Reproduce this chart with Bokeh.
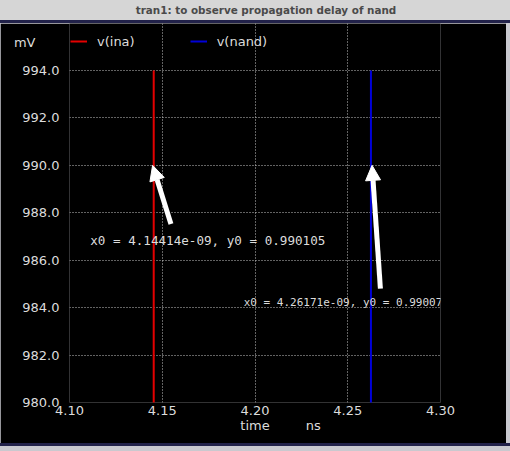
from bokeh.plotting import figure
from bokeh.models import (Range1d, FixedTicker, Legend, LegendItem, Arrow, Div, Label,
                          NormalHead, PrintfTickFormatter, ColumnDataSource, LinearAxis)
from bokeh.layouts import column
from bokeh.embed import file_html
from bokeh.resources import INLINE

# ---------------- data ----------------
window_title = "tran1: to observe propagation delay of nand"
y_unit = "mV"
x_title = "time"
x_unit = "ns"
x_ticks = [4.10, 4.15, 4.20, 4.25, 4.30]
y_ticks = [980.0, 982.0, 984.0, 986.0, 988.0, 990.0, 992.0, 994.0]
series_names = ["v(ina)", "v(nand)"]
series_colors = ["#e40000", "#0000d8"]
# time in ns, voltage in mV (steep transitions seen in the zoomed window)
ina_time = [4.1454, 4.1454]
ina_mv = [975.0, 994.0]
nand_time = [4.2625, 4.2625]
nand_mv = [994.0, 975.0]
# cursor markers
marker_text = ["x0 = 4.14414e-09, y0 = 0.990105", "x0 = 4.26171e-09, y0 = 0.99007"]
marker_time = [4.1112, 4.1939]
marker_mv = [986.82, 984.22]
arrow_tip_time = [4.1448, 4.2631]
arrow_tip_mv = [990.0, 990.0]
arrow_tail_time = [4.1547, 4.2676]
arrow_tail_mv = [987.53, 984.80]
# positions of the caption words (time axis) and unit word (value axis)
caption_time = [4.20, 4.2314]
unit_mv = 995.18

FG = "#dcdcdc"
GRID = "#c4c4c4"
NAVY = "#22224a"

# geometry: plot box 371 x 332 px, header strip of 47 px above it
PLOT_H = 332
HEAD_H = 47
px_per_mv = PLOT_H / (y_ticks[-1] - y_ticks[0])

# ---------------- title bar ----------------
bar = Div(text=window_title, width=510, height=23, margin=0,
          styles={"background-color": "#d6d6d6", "color": "#4a4a4a",
                  "font-family": "DejaVu Sans", "font-weight": "bold",
                  "font-size": "10.4px", "line-height": "20px",
                  "text-align": "center", "padding-left": "22px",
                  "box-sizing": "border-box", "width": "510px", "height": "23px",
                  "border-bottom": "3px solid " + NAVY})

# ---------------- main plot ----------------
p = figure(frame_width=371, frame_height=PLOT_H + HEAD_H, output_backend="svg",
           toolbar_location=None,
           x_range=Range1d(x_ticks[0], x_ticks[-1]),
           y_range=Range1d(y_ticks[0], y_ticks[-1] + HEAD_H / px_per_mv),
           min_border_left=69, min_border_right=66, min_border_top=0,
           min_border_bottom=41,
           background_fill_color="black", border_fill_color="black")
p.outline_line_color = None
p.title.visible = False

for g in (p.xgrid, p.ygrid):
    g.grid_line_color = GRID
    g.grid_line_dash = "1 2"
p.xgrid.ticker = FixedTicker(ticks=x_ticks)
p.ygrid.ticker = FixedTicker(ticks=y_ticks)
p.xgrid.bounds = (y_ticks[0], y_ticks[-1])

p.xaxis.ticker = FixedTicker(ticks=x_ticks)
p.yaxis.ticker = FixedTicker(ticks=y_ticks)
p.xaxis.formatter = PrintfTickFormatter(format="%.2f")
p.yaxis.formatter = PrintfTickFormatter(format="%.1f")

cap_axis = LinearAxis(ticker=FixedTicker(ticks=caption_time),
                      major_label_overrides={caption_time[0]: x_title,
                                             caption_time[1]: x_unit})
p.add_layout(cap_axis, "below")
unit_axis = LinearAxis(ticker=FixedTicker(ticks=[unit_mv]),
                       major_label_overrides={unit_mv: y_unit})
p.add_layout(unit_axis, "left")

for ax in (p.xaxis + p.yaxis):
    ax.axis_line_color = None
    ax.major_tick_line_color = None
    ax.minor_tick_line_color = None
    ax.major_tick_out = 0
    ax.major_tick_in = 0
    ax.minor_tick_out = 0
    ax.minor_tick_in = 0
    ax.major_label_text_color = FG
    ax.major_label_text_font = "DejaVu Sans"
    ax.major_label_text_font_size = "13px"
p.yaxis[0].major_label_standoff = 10
unit_axis.major_label_standoff = -16
p.xaxis[0].major_label_standoff = 3
cap_axis.major_label_standoff = 0

r1 = p.line(ina_time, ina_mv, line_color=series_colors[0], line_width=2)
r2 = p.line(nand_time, nand_mv, line_color=series_colors[1], line_width=2)

legend = Legend(items=[LegendItem(label=series_names[0], renderers=[r1]),
                       LegendItem(label=series_names[1], renderers=[r2])],
                orientation="horizontal", location=(1, PLOT_H + 19),
                glyph_width=17, glyph_height=20, label_height=20,
                label_standoff=10, spacing=55, padding=0, margin=0,
                border_line_color=None, background_fill_alpha=0,
                label_text_color=FG, label_text_font="DejaVu Sans",
                label_text_font_size="13px")
p.add_layout(legend, "center")

arrow_src = ColumnDataSource(dict(x0=arrow_tail_time, y0=arrow_tail_mv,
                                  x1=arrow_tip_time, y1=arrow_tip_mv))
p.add_layout(Arrow(source=arrow_src, x_start="x0", y_start="y0", x_end="x1", y_end="y1",
                   line_color="white", line_width=5,
                   end=NormalHead(size=15, fill_color="white", line_color="white")))

for txt, tx, ty, fs in zip(marker_text, marker_time, marker_mv, ["12.6px", "11px"]):
    p.add_layout(Label(x=tx, y=ty, text=txt, text_align="left", text_baseline="middle",
                       text_color=FG, text_font="DejaVu Sans Mono", text_font_size=fs))

bottom = Div(text="", width=510, height=8, margin=0,
             styles={"background-color": "#c9c9cf", "box-sizing": "border-box",
                     "width": "510px", "height": "8px",
                     "border-top": "3px solid " + NAVY})

layout = column(bar, p, bottom, spacing=0, width=510,
                styles={"background-color": "#c9c9cf"})
open("out.html", "w").write(file_html(layout, INLINE))
